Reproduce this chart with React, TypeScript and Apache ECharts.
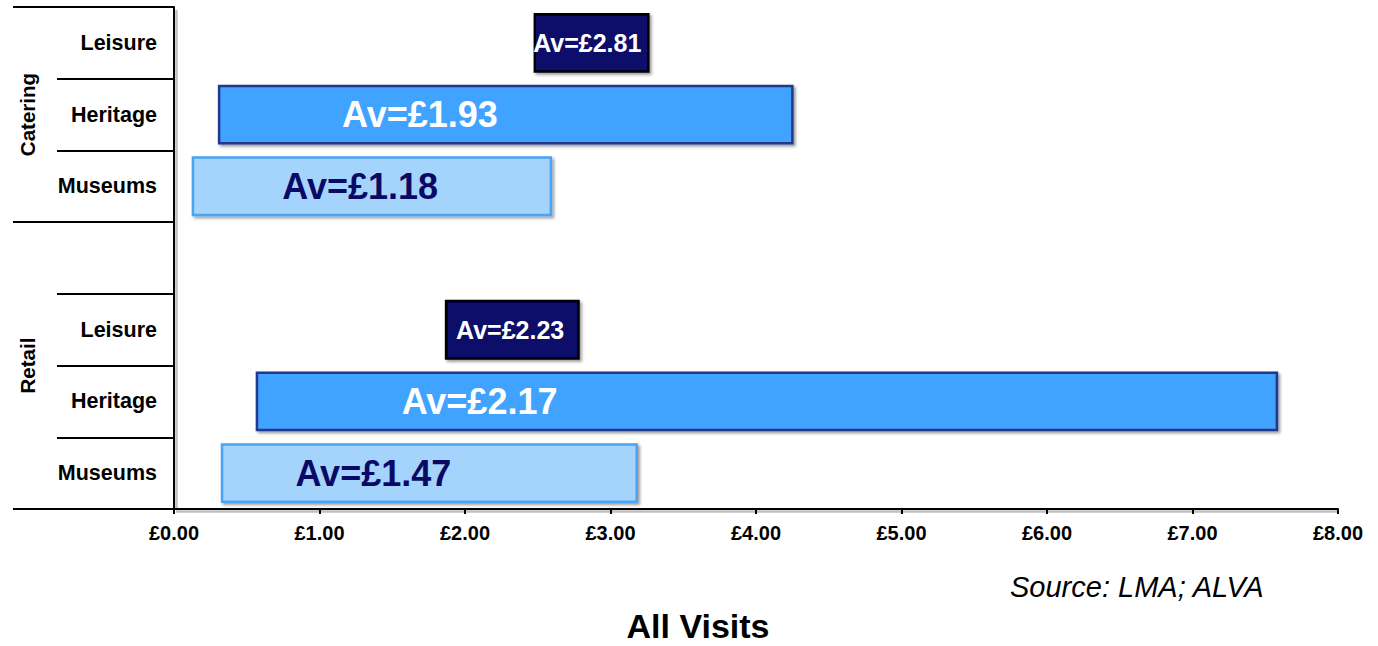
import React, { useEffect, useRef } from "react";
import * as echarts from "echarts";

const groupNames = ["Catering", "Retail"];
const groupCentre = [1, 4.5]; // category position of each group label
const categories = ["Leisure", "Heritage", "Museums", "", "Leisure", "Heritage", "Museums"];
const rangeLow = [2.48, 0.31, 0.13, null, 1.87, 0.57, 0.33];
const rangeHigh = [3.26, 4.25, 2.59, null, 2.78, 7.58, 3.18];
const averages = [2.81, 1.93, 1.18, null, 2.23, 2.17, 1.47];
const labelAt = [2.84, 1.69, 1.28, null, 2.31, 2.10, 1.37];
const groupBoundaries = [0, 3, 7];

const FONT = "'Liberation Sans', Arial, sans-serif";

const kindStyle: Record<string, any> = {
  Leisure: { fill: "#08086a", stroke: "#000000", text: "#ffffff", size: 25 },
  Heritage: { fill: "#3fa3ff", stroke: "#22388c", text: "#ffffff", size: 36 },
  Museums: { fill: "#a4d4fb", stroke: "#49a4f6", text: "#0a0a66", size: 36 },
};

export default function App() {
  const ref = useRef<HTMLDivElement>(null);
  useEffect(() => {
    if (!ref.current) return;
    const chart = echarts.init(ref.current, null, { renderer: "svg" });
    const data = categories
      .map((c, i) => (rangeLow[i] == null ? null : [i, rangeLow[i], rangeHigh[i], labelAt[i], averages[i]]))
      .filter((d) => d) as number[][];

    chart.setOption({
      animation: false,
      grid: { left: 174, right: 40, top: 7, bottom: 137, containLabel: false },
      xAxis: {
        type: "value",
        min: 0,
        max: 8,
        interval: 1,
        splitLine: { show: false },
        axisLine: { show: true, onZero: false, lineStyle: { color: "#000", width: 2 } },
        axisTick: { show: true, length: 5, lineStyle: { color: "#000", width: 2 } },
        axisLabel: {
          margin: 14,
          color: "#000",
          fontFamily: FONT,
          fontWeight: "bold",
          fontSize: 20,
          formatter: (v: number) => "£" + v.toFixed(2),
        },
      },
      yAxis: {
        type: "category",
        inverse: true,
        data: categories,
        axisLine: { show: true, onZero: false, lineStyle: { color: "#000", width: 2 } },
        axisTick: { show: true, interval: 0, length: 117, lineStyle: { color: "#000", width: 2 } },
        axisLabel: {
          interval: 0,
          margin: 17,
          color: "#000",
          fontFamily: FONT,
          fontWeight: "bold",
          fontSize: 21.5,
        },
      },
      series: [
        {
          type: "custom",
          encode: { x: [1, 2, 3], y: 0 },
          data,
          renderItem: (params: any, api: any) => {
            const idx = api.value(0);
            const lo = api.value(1);
            const hi = api.value(2);
            const at = api.value(3);
            const av = api.value(4);
            const st = kindStyle[categories[idx]];
            const p0 = api.coord([lo, idx]);
            const p1 = api.coord([hi, idx]);
            const pt = api.coord([at, idx]);
            const h = api.size([0, 1])[1] * 0.8;
            return {
              type: "group",
              children: [
                {
                  type: "rect",
                  shape: { x: p0[0], y: p0[1] - h / 2, width: p1[0] - p0[0], height: h },
                  style: {
                    fill: st.fill,
                    stroke: st.stroke,
                    lineWidth: 2.5,
                    shadowColor: "rgba(0,0,0,0.4)",
                    shadowBlur: 3,
                    shadowOffsetX: 2,
                    shadowOffsetY: 2,
                  },
                },
                {
                  type: "text",
                  x: pt[0],
                  y: pt[1],
                  style: {
                    text: "Av=£" + Number(av).toFixed(2),
                    fill: st.text,
                    font: `bold ${st.size}px ${FONT}`,
                    align: "center",
                    verticalAlign: "middle",
                  },
                },
              ],
            };
          },
        },
      ],
    });

    // group separators, axis shadows and group labels positioned through the scales
    const c0 = chart.convertToPixel({ yAxisIndex: 0 }, 0) as number;
    const c1 = chart.convertToPixel({ yAxisIndex: 0 }, 1) as number;
    const band = c1 - c0;
    const yAt = (v: number) => c0 + v * band;
    const xMin = chart.convertToPixel({ xAxisIndex: 0 }, 0) as number;
    const xMax = chart.convertToPixel({ xAxisIndex: 0 }, 8) as number;
    const yTop = yAt(-0.5);
    const yBot = yAt(categories.length - 0.5);
    const graphics: any[] = [
      {
        type: "line",
        z: -1,
        shape: { x1: xMin + 2.5, y1: yTop + 3, x2: xMin + 2.5, y2: yBot },
        style: { stroke: "rgba(0,0,0,0.25)", lineWidth: 2.5 },
      },
      {
        type: "line",
        z: -1,
        shape: { x1: xMin + 2, y1: yBot + 2.5, x2: xMax, y2: yBot + 2.5 },
        style: { stroke: "rgba(0,0,0,0.25)", lineWidth: 2.5 },
      },
    ];
    groupBoundaries.forEach((b) => {
      const y = Math.round(yAt(b - 0.5));
      graphics.push({
        type: "line",
        shape: { x1: 13, y1: y, x2: 60, y2: y },
        style: { stroke: "#000", lineWidth: 2 },
      });
    });
    groupNames.forEach((g, i) => {
      graphics.push({
        type: "text",
        x: 27,
        y: yAt(groupCentre[i]),
        rotation: Math.PI / 2,
        style: {
          text: g,
          fill: "#000",
          font: `bold 20.5px ${FONT}`,
          align: "center",
          verticalAlign: "middle",
        },
      });
    });
    graphics.push({
      type: "text",
      x: 1010,
      y: 587,
      style: {
        text: "Source: LMA; ALVA",
        fill: "#000",
        font: `italic 29px ${FONT}`,
        align: "left",
        verticalAlign: "middle",
      },
    });
    graphics.push({
      type: "text",
      x: 698,
      y: 626,
      style: {
        text: "All Visits",
        fill: "#000",
        font: `bold 34px ${FONT}`,
        align: "center",
        verticalAlign: "middle",
      },
    });
    chart.setOption({ graphic: graphics });

    return () => chart.dispose();
  }, []);
  return (
    <div
      ref={ref}
      style={{ position: "fixed", left: 0, top: 0, width: 1378, height: 646, background: "#fff" }}
    />
  );
}
